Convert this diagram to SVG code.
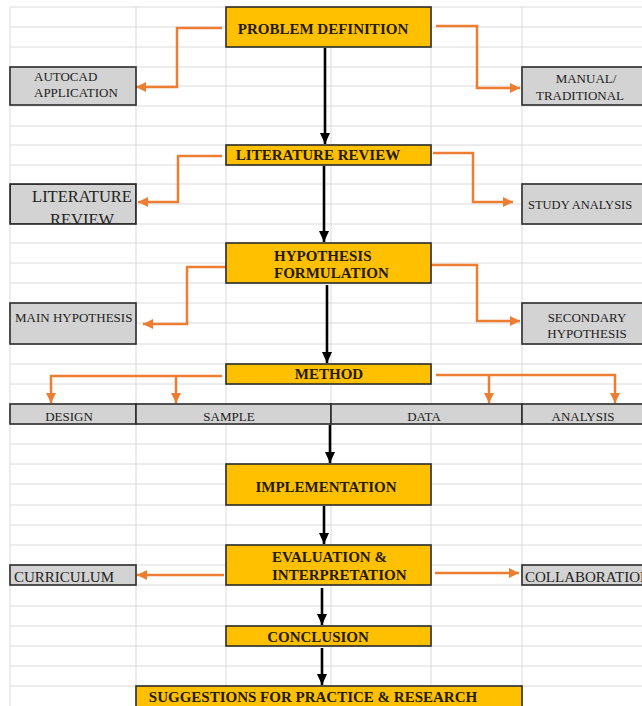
<svg xmlns="http://www.w3.org/2000/svg" width="642" height="706" viewBox="0 0 642 706">
<style>
.grid line{stroke:#dadada;stroke-width:1}
.main{fill:#FFC000;stroke:#2b2b2b;stroke-width:1.6}
.side{fill:#D3D3D3;stroke:#2b2b2b;stroke-width:1.6}
.bt{font-family:"Liberation Serif","Times New Roman",serif;font-weight:bold;font-size:15px;fill:#231a08}
.rt{font-family:"Liberation Serif","Times New Roman",serif;font-size:13px;fill:#222}
.or{fill:none;stroke:#ED7D31;stroke-width:2.5}
.bk{fill:none;stroke:#000;stroke-width:2.6}
</style>
<defs>
<marker id="ao" markerUnits="userSpaceOnUse" markerWidth="10" markerHeight="10" refX="10" refY="5" orient="auto"><path d="M0,0 L10,5 L0,10 z" fill="#ED7D31"/></marker>
<marker id="ab" markerUnits="userSpaceOnUse" markerWidth="11" markerHeight="10" refX="11" refY="5" orient="auto"><path d="M0,0 L11,5 L0,10 z" fill="#000"/></marker>
</defs>
<rect width="642" height="706" fill="#fff"/>
<g class="grid">
<line x1="10" y1="7" x2="10" y2="706"/>
<line x1="136" y1="7" x2="136" y2="706"/>
<line x1="226" y1="7" x2="226" y2="706"/>
<line x1="331" y1="7" x2="331" y2="706"/>
<line x1="431" y1="7" x2="431" y2="706"/>
<line x1="522" y1="7" x2="522" y2="706"/>
<line x1="10" y1="7" x2="642" y2="7"/>
<line x1="10" y1="27" x2="642" y2="27"/>
<line x1="10" y1="47" x2="642" y2="47"/>
<line x1="10" y1="67" x2="642" y2="67"/>
<line x1="10" y1="86" x2="642" y2="86"/>
<line x1="10" y1="106" x2="642" y2="106"/>
<line x1="10" y1="126" x2="642" y2="126"/>
<line x1="10" y1="145" x2="642" y2="145"/>
<line x1="10" y1="165" x2="642" y2="165"/>
<line x1="10" y1="184" x2="642" y2="184"/>
<line x1="10" y1="204" x2="642" y2="204"/>
<line x1="10" y1="224" x2="642" y2="224"/>
<line x1="10" y1="243" x2="642" y2="243"/>
<line x1="10" y1="263" x2="642" y2="263"/>
<line x1="10" y1="283" x2="642" y2="283"/>
<line x1="10" y1="303" x2="642" y2="303"/>
<line x1="10" y1="323" x2="642" y2="323"/>
<line x1="10" y1="344" x2="642" y2="344"/>
<line x1="10" y1="364" x2="642" y2="364"/>
<line x1="10" y1="384" x2="642" y2="384"/>
<line x1="10" y1="404" x2="642" y2="404"/>
<line x1="10" y1="424" x2="642" y2="424"/>
<line x1="10" y1="444" x2="642" y2="444"/>
<line x1="10" y1="464" x2="642" y2="464"/>
<line x1="10" y1="484" x2="642" y2="484"/>
<line x1="10" y1="505" x2="642" y2="505"/>
<line x1="10" y1="525" x2="642" y2="525"/>
<line x1="10" y1="545" x2="642" y2="545"/>
<line x1="10" y1="565" x2="642" y2="565"/>
<line x1="10" y1="585" x2="642" y2="585"/>
<line x1="10" y1="606" x2="642" y2="606"/>
<line x1="10" y1="626" x2="642" y2="626"/>
<line x1="10" y1="646" x2="642" y2="646"/>
<line x1="10" y1="666" x2="642" y2="666"/>
<line x1="10" y1="686" x2="642" y2="686"/>
</g>
<g id="connectors">
<path class="or" d="M222,28 H177 V87 H136" marker-end="url(#ao)"/>
<path class="or" d="M436,26 H477 V88 H520" marker-end="url(#ao)"/>
<path class="or" d="M222,156 H178 V202 H138" marker-end="url(#ao)"/>
<path class="or" d="M433,153 H473 V202 H513" marker-end="url(#ao)"/>
<path class="or" d="M226,267 H187 V324 H143" marker-end="url(#ao)"/>
<path class="or" d="M431,265 H477 V321 H520" marker-end="url(#ao)"/>
<path class="or" d="M222,376 H51 V403" marker-end="url(#ao)"/>
<path class="or" d="M176,376 V403" marker-end="url(#ao)"/>
<path class="or" d="M436,375 H615 V403" marker-end="url(#ao)"/>
<path class="or" d="M489,375 V403" marker-end="url(#ao)"/>
<path class="or" d="M224,575 H137" marker-end="url(#ao)"/>
<path class="or" d="M435,573 H519" marker-end="url(#ao)"/>
<path class="bk" d="M325,48 V144" marker-end="url(#ab)"/>
<path class="bk" d="M324,166 V242" marker-end="url(#ab)"/>
<path class="bk" d="M327,285 V363" marker-end="url(#ab)"/>
<path class="bk" d="M330,425 V463" marker-end="url(#ab)"/>
<path class="bk" d="M324,506 V544" marker-end="url(#ab)"/>
<path class="bk" d="M322,588 V625" marker-end="url(#ab)"/>
<path class="bk" d="M322,648 V685" marker-end="url(#ab)"/>
</g>
<g id="problem-definition"><rect class="main" x="226" y="7" width="205" height="40"/><text class="bt" x="323" y="34" text-anchor="middle">PROBLEM DEFINITION</text></g>
<g id="autocad"><rect class="side" x="10" y="67" width="126" height="38"/><text class="rt" x="34" y="81">AUTOCAD</text><text class="rt" x="34" y="97">APPLICATION</text></g>
<g id="manual"><rect class="side" x="522" y="67" width="125" height="38"/><text class="rt" x="586" y="83" text-anchor="middle">MANUAL/</text><text class="rt" x="580" y="100" text-anchor="middle">TRADITIONAL</text></g>
<g id="literature-review"><rect class="main" x="226" y="145" width="205" height="20"/><text class="bt" x="318" y="160" text-anchor="middle">LITERATURE REVIEW</text></g>
<g id="literature-review-side"><svg x="10" y="184" width="126" height="40" overflow="hidden"><rect class="side" x="0" y="0" width="126" height="40"/><text class="rt" style="font-size:16.5px" x="72" y="18" text-anchor="middle">LITERATURE</text><text class="rt" style="font-size:16.5px" x="72" y="41" text-anchor="middle">REVIEW</text></svg><rect x="10" y="184" width="126" height="40" fill="none" stroke="#2b2b2b" stroke-width="1.6"/></g>
<g id="study-analysis"><rect class="side" x="522" y="184" width="125" height="40"/><text class="rt" style="font-size:12.5px" x="528" y="209">STUDY ANALYSIS</text></g>
<g id="hypothesis"><rect class="main" x="226" y="243" width="205" height="40"/><text class="bt" x="274" y="261">HYPOTHESIS</text><text class="bt" x="274" y="278">FORMULATION</text></g>
<g id="main-hypothesis"><rect class="side" x="10" y="303" width="126" height="41"/><text class="rt" x="15" y="322">MAIN HYPOTHESIS</text></g>
<g id="secondary-hypothesis"><rect class="side" x="522" y="303" width="125" height="41"/><text class="rt" x="587" y="322" text-anchor="middle">SECONDARY</text><text class="rt" x="587" y="338" text-anchor="middle">HYPOTHESIS</text></g>
<g id="method"><rect class="main" x="226" y="364" width="205" height="20"/><text class="bt" x="329" y="379" text-anchor="middle">METHOD</text></g>
<g id="design"><rect class="side" x="10" y="404" width="126" height="20"/><text class="rt" x="69" y="421" text-anchor="middle">DESIGN</text></g>
<g id="sample"><rect class="side" x="136" y="404" width="195" height="20"/><text class="rt" x="229" y="421" text-anchor="middle">SAMPLE</text></g>
<g id="data"><rect class="side" x="331" y="404" width="191" height="20"/><text class="rt" x="424" y="421" text-anchor="middle">DATA</text></g>
<g id="analysis"><rect class="side" x="522" y="404" width="125" height="20"/><text class="rt" x="583" y="421" text-anchor="middle">ANALYSIS</text></g>
<g id="implementation"><rect class="main" x="226" y="464" width="205" height="41"/><text class="bt" x="326" y="492" text-anchor="middle">IMPLEMENTATION</text></g>
<g id="evaluation"><rect class="main" x="226" y="545" width="205" height="40"/><text class="bt" x="272" y="562">EVALUATION &amp;</text><text class="bt" x="272" y="580">INTERPRETATION</text></g>
<g id="curriculum"><rect class="side" x="10" y="565" width="126" height="20"/><text class="rt" style="font-size:15px" x="14" y="582">CURRICULUM</text></g>
<g id="collaboration"><rect class="side" x="522" y="565" width="125" height="20"/><text class="rt" style="font-size:15px" x="525" y="582">COLLABORATION</text></g>
<g id="conclusion"><rect class="main" x="226" y="626" width="205" height="20"/><text class="bt" x="318" y="642" text-anchor="middle">CONCLUSION</text></g>
<g id="suggestions"><rect class="main" x="136" y="686" width="386" height="22"/><text class="bt" x="313" y="702" text-anchor="middle">SUGGESTIONS FOR PRACTICE &amp; RESEARCH</text></g>
</svg>
